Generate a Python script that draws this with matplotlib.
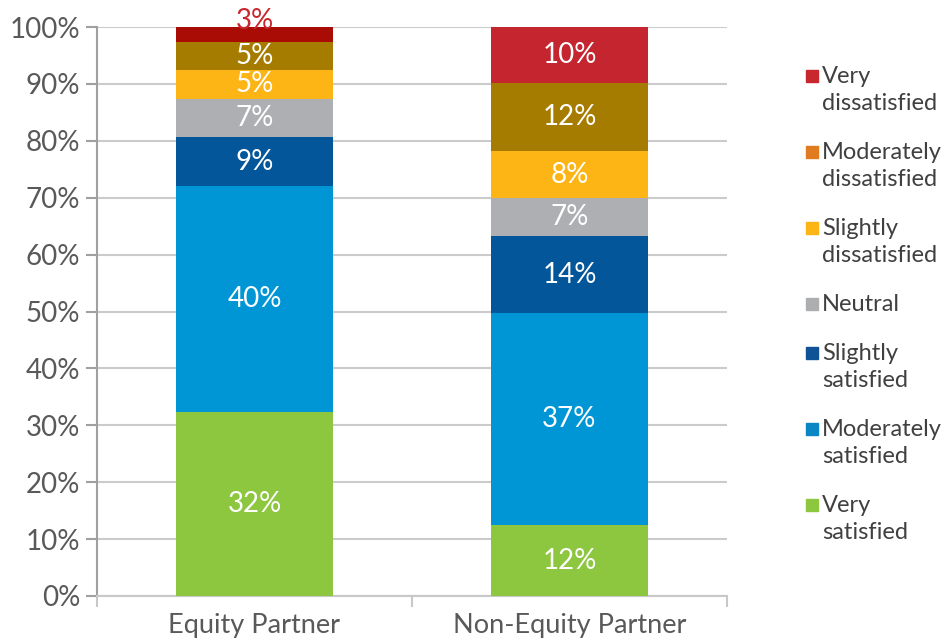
import matplotlib.pyplot as plt
import numpy as np
from matplotlib.patches import Rectangle

plt.rcParams['font.family'] = ['Lato', 'DejaVu Sans']

categories = ['Equity Partner', 'Non-Equity Partner']
levels = ['Very satisfied', 'Moderately satisfied', 'Slightly satisfied', 'Neutral',
          'Slightly dissatisfied', 'Moderately dissatisfied', 'Very dissatisfied']
equity = [32.4, 39.6, 8.7, 6.6, 5.2, 4.9, 2.6]
non_equity = [12.4, 37.3, 13.6, 6.6, 8.3, 12.0, 9.8]

# colours as drawn in the bars (the reds differ between bars)
bar_colors = [
    ['#8DC63F', '#0096D6', '#04569A', '#ADAFB2', '#FDB515', '#A67C00', '#A80C05'],
    ['#8DC63F', '#0096D6', '#04569A', '#ADAFB2', '#FDB515', '#A67C00', '#C4252F'],
]
# colours shown in the legend
legend_colors = ['#8DC63F', '#0A86C5', '#0F5396', '#ADAEB0', '#FDB515', '#E07B20', '#C8272D']
legend_labels = ['Very\nsatisfied', 'Moderately\nsatisfied', 'Slightly\nsatisfied', 'Neutral',
                 'Slightly\ndissatisfied', 'Moderately\ndissatisfied', 'Very\ndissatisfied']

fig = plt.figure(figsize=(9.45, 6.42), dpi=100)
ax = fig.add_axes([97/945, 1-596/642, 630/945, 569/642])

x = np.array([0.5, 1.5])
data = np.array([equity, non_equity])
bottom = np.zeros(2)
for j in range(len(levels)):
    vals = data[:, j]
    for i in range(2):
        ax.bar(x[i], vals[i], 0.5, bottom=bottom[i], color=bar_colors[i][j], zorder=3,
               edgecolor='none')
        lab = '%d%%' % round(vals[i])
        if vals[i] < 4:
            ax.text(x[i], bottom[i] + vals[i] - 0.3, lab, ha='center', va='baseline',
                    color='#C8272D', fontsize=20, zorder=4, clip_on=False)
        else:
            ax.text(x[i], bottom[i] + vals[i]/2, lab, ha='center', va='center',
                    color='white', fontsize=20, zorder=4)
    bottom += vals

ax.set_xlim(0, 2)
ax.set_ylim(0, 100)
ax.set_yticks(np.arange(0, 101, 10))
ax.set_yticklabels(['%d%%' % v for v in range(0, 101, 10)])
ax.yaxis.grid(True, color='#CBCBCB', lw=1.5, zorder=0)
ax.set_xticks([0, 1, 2])
ax.set_xticklabels(['', '', ''])
ax.set_xticks(x, minor=True)
ax.set_xticklabels(categories, minor=True)
ax.tick_params(axis='x', which='minor', length=0, labelsize=19.5, labelcolor='#595959', pad=12)
ax.tick_params(axis='x', which='major', length=8, color='#C8C8C8', width=1.5)
ax.tick_params(axis='y', length=8, color='#A0A0A0', width=1.5, labelsize=20,
               labelcolor='#595959', pad=4)
for s in ['top', 'right']:
    ax.spines[s].set_visible(False)
ax.spines['left'].set_color('#A0A0A0')
ax.spines['left'].set_linewidth(1.5)
ax.spines['bottom'].set_color('#C8C8C8')
ax.spines['bottom'].set_linewidth(1.5)

# legend drawn by hand, top entry first
y = 76
for k in range(len(levels) - 1, -1, -1):
    fig.patches.append(Rectangle((806/945, 1-(y+6)/642), 12/945, 12/642,
                                 transform=fig.transFigure, color=legend_colors[k]))
    fig.text(822/945, 1-(y-10)/642, legend_labels[k], ha='left', va='top', fontsize=17,
             color='#404040', linespacing=1.38)
    y += 76 if '\n' in legend_labels[k] else 49

fig.savefig('out.png', dpi=100)
